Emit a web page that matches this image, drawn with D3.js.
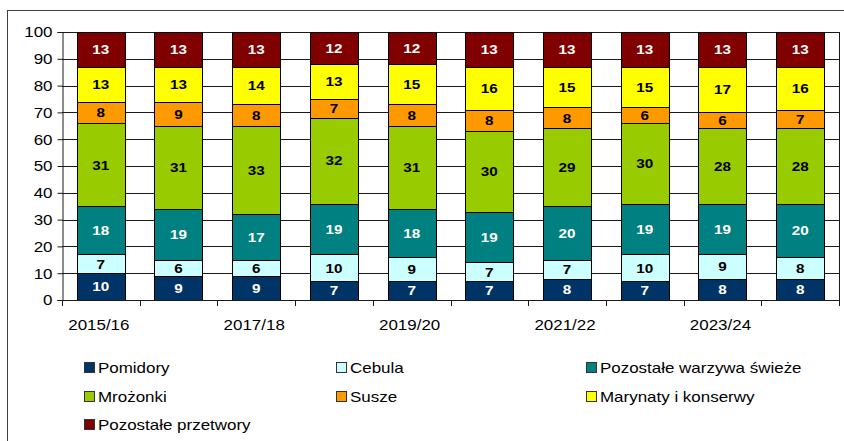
<!DOCTYPE html>
<html>
<head>
<meta charset="utf-8">
<script src="https://cdn.jsdelivr.net/npm/d3@7"></script>
<style>
  html, body { margin: 0; padding: 0; background: #fff; }
  svg { display: block; font-family: Arial, "Liberation Sans", sans-serif; }
  .sx { transform-box: fill-box; transform: scaleX(1.13); }
  .sxm { transform-origin: center; }
  .sxe { transform-origin: right; }
  .sxs { transform-origin: left; }
</style>
</head>
<body>
<svg id="chart" width="844" height="441"></svg>
<script>
const categories = ["2015/16","2016/17","2017/18","2018/19","2019/20","2020/21","2021/22","2022/23","2023/24","2024/25"];
const tickLabels = ["2015/16","","2017/18","","2019/20","","2021/22","","2023/24",""];
const seriesNames = ["Pomidory","Cebula","Pozostałe warzywa świeże","Mrożonki","Susze","Marynaty i konserwy","Pozostałe przetwory"];
const pomidory   = [10, 9, 9, 7, 7, 7, 8, 7, 8, 8];
const cebula     = [ 7, 6, 6,10, 9, 7, 7,10, 9, 8];
const pozostaleSwieze = [18,19,17,19,18,19,20,19,19,20];
const mrozonki   = [31,31,33,32,31,30,29,30,28,28];
const susze      = [ 8, 9, 8, 7, 8, 8, 8, 6, 6, 7];
const marynaty   = [13,13,14,13,15,16,15,15,17,16];
const pozostalePrzetwory = [13,13,13,12,12,13,13,13,13,13];
const yTicks = [0,10,20,30,40,50,60,70,80,90,100];

const colors = ["#003366","#CCFFFF","#008080","#99CC00","#FF9900","#FFFF00","#800000"];
const labelColors = ["#fff","#000","#fff","#000","#000","#000","#fff"];
const seriesValues = [pomidory, cebula, pozostaleSwieze, mrozonki, susze, marynaty, pozostalePrzetwory];

const rows = categories.map((c, i) => {
  const r = { cat: c };
  seriesNames.forEach((s, k) => r[s] = seriesValues[k][i]);
  return r;
});
const stacked = d3.stack().keys(seriesNames)(rows);

const svg = d3.select("#chart");
const L = 62, R = 839, T = 32, B = 300;
const x = d3.scaleBand().domain(categories).range([L, R]).paddingInner(0.38).paddingOuter(0.19);
const y = d3.scaleLinear().domain([0, 100]).range([B, T]);

// outer frame
svg.append("rect").attr("x", 7.5).attr("y", 10.5).attr("width", 1000).attr("height", 1000)
  .attr("fill", "none").attr("stroke", "#404040");

// gridlines
svg.append("g").selectAll("line").data(yTicks).join("line")
  .attr("x1", L).attr("x2", R)
  .attr("y1", d => Math.round(y(d)) + 0.5).attr("y2", d => Math.round(y(d)) + 0.5)
  .attr("stroke", "#1a1a1a").attr("stroke-width", 1);
// right border
svg.append("line").attr("x1", R + 0.5).attr("x2", R + 0.5).attr("y1", T).attr("y2", B + 6)
  .attr("stroke", "#1a1a1a");

// bars
const barG = svg.append("g");
stacked.forEach((layer, k) => {
  barG.append("g").selectAll("rect").data(layer).join("rect")
    .attr("x", d => Math.round(x(d.data.cat)) + 0.5)
    .attr("width", Math.round(x.bandwidth()))
    .attr("y", d => Math.round(y(d[1])) + 0.5)
    .attr("height", d => Math.round(y(d[0])) - Math.round(y(d[1])))
    .attr("fill", colors[k]).attr("stroke", "#000").attr("stroke-width", 1);
});
// bar labels
stacked.forEach((layer, k) => {
  barG.append("g").selectAll("text").data(layer).join("text")
    .attr("class", "sx sxm")
    .attr("x", d => x(d.data.cat) + x.bandwidth() / 2)
    .attr("y", d => (y(d[0]) + y(d[1])) / 2)
    .attr("dy", "0.36em")
    .attr("text-anchor", "middle")
    .attr("font-size", 13.5).attr("font-weight", "bold")
    .attr("fill", labelColors[k])
    .text(d => d.data[seriesNames[k]]);
});

// y axis
const yAxis = svg.append("g").attr("transform", `translate(${L + 0.5},0)`)
  .call(d3.axisLeft(y).tickValues(yTicks).tickSize(5).tickPadding(5).tickFormat(d3.format("d")));
yAxis.select(".domain").attr("stroke", "#1a1a1a");
yAxis.selectAll(".tick line").attr("stroke", "#1a1a1a");
yAxis.selectAll(".tick text").attr("class", "sx sxe").attr("font-size", 15).attr("fill", "#000")
  .attr("font-family", "Arial, 'Liberation Sans', sans-serif");

// x axis
svg.append("line").attr("x1", L).attr("x2", R + 1).attr("y1", B + 0.5).attr("y2", B + 0.5).attr("stroke", "#1a1a1a");
const boundaries = categories.map(c => x(c) - x.step() * x.paddingInner() / 2).concat([R]);
svg.append("g").selectAll("line").data(boundaries).join("line")
  .attr("x1", d => Math.round(d) + 0.5).attr("x2", d => Math.round(d) + 0.5)
  .attr("y1", B).attr("y2", B + 6).attr("stroke", "#1a1a1a");
svg.append("g").selectAll("text").data(categories).join("text")
  .attr("class", "sx sxm")
  .attr("x", d => x(d) + x.bandwidth() / 2 - 2)
  .attr("y", 330)
  .attr("text-anchor", "middle").attr("font-size", 15).attr("fill", "#000")
  .text((d, i) => tickLabels[i]);

// legend
const legCols = [84, 336, 586];
const legRows = [368, 397, 425];
const leg = svg.append("g");
seriesNames.forEach((s, k) => {
  const cx = legCols[k % 3], cy = legRows[Math.floor(k / 3)];
  leg.append("rect").attr("x", cx + 0.5).attr("y", cy - 5.5).attr("width", 10).attr("height", 10)
    .attr("fill", colors[k]).attr("stroke", "#333");
  leg.append("text").attr("class", "sx sxs")
    .attr("x", cx + 14).attr("y", cy).attr("dy", "0.35em")
    .attr("font-size", 15).attr("fill", "#000").text(s);
});
</script>
</body>
</html>
